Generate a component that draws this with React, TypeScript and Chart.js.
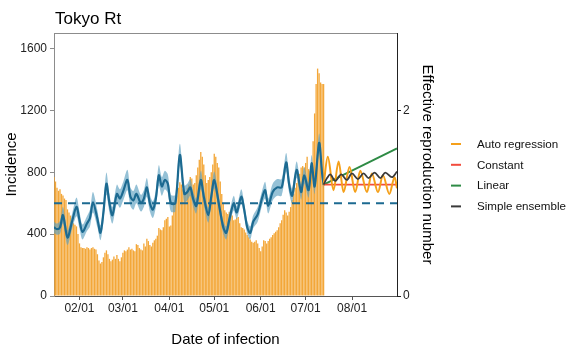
import React, { useEffect, useRef } from "react";
import { Chart, registerables } from "chart.js";

Chart.register(...registerables);

// ---------- DATA ----------
// day index 0 = Jan 15 (2020), last day = Aug 31
const xMinDay = 0;
const xMaxDay = 229;
const monthTickDays = [17, 46, 77, 107, 138, 168, 199];
const monthTickLabels = ["02/01", "03/01", "04/01", "05/01", "06/01", "07/01", "08/01"];
const incidenceTicks = [0, 400, 800, 1200, 1600];
const rtTicks = [0, 2];

const incidenceStartDay = 0;
const incidence = [
  770, 740, 700, 680, 690, 660, 650, 630, 620, 560,
  540, 520, 480, 470, 460, 450, 400, 340, 315, 310,
  310, 305, 315, 310, 300, 310, 315, 305, 300, 270,
  230, 210, 220, 250, 280, 295, 270, 240, 225, 235,
  255, 240, 265, 240, 225, 250, 280, 295, 290, 300,
  315, 300, 305, 295, 290, 335, 330, 310, 300, 295,
  340, 320, 370, 355, 330, 320, 345, 360, 370, 390,
  440, 430, 425, 445, 490, 500, 510, 450, 455, 520,
  590, 620, 650, 700, 735, 720, 690, 670, 660, 700,
  720, 770, 760, 720, 730, 780, 830, 880, 930, 900,
  850, 780, 730, 750, 770, 800, 850, 920, 900, 860,
  830, 740, 660, 600, 555, 540, 530, 545, 555, 520,
  490, 495, 505, 510, 470, 445, 440, 430, 410, 395,
  380, 365, 350, 345, 350, 360, 340, 310, 290, 320,
  360, 355, 340, 355, 370, 380, 395, 405, 415, 425,
  445, 470, 490, 525, 555, 540, 520, 545, 575, 620,
  660, 700, 730, 750, 790, 830, 840, 830, 860, 900,
  820, 810, 830, 1000, 1180, 1370, 1470, 1440, 1380, 1370,
  1370,
];

const rtDays = [
  0, 2, 4, 6, 9, 12, 15, 17, 19, 22,
  24, 26, 29, 31, 33, 35, 37, 39, 42, 44,
  46, 49, 51, 53, 55, 58, 60, 62, 64, 66,
  68, 70, 72, 74, 76, 78, 81, 84, 87, 89,
  91, 93, 95, 98, 100, 103, 105, 107, 110, 113,
  115, 117, 120, 122, 125, 127, 129, 131, 133, 136,
  139, 141, 143, 146, 149, 152, 155, 157, 159, 162,
  165, 167, 170, 172, 174, 177, 179, 180,
];
const rtValues = [
  0.74, 0.72, 0.74, 0.87, 0.63, 0.8, 0.96, 0.82, 0.69, 0.78,
  0.84, 1.01, 0.83, 0.68, 0.9, 1.21, 1.0, 0.87, 1.1, 1.05,
  1.12, 1.25, 1.07, 1.03, 1.1, 1.0, 1.05, 1.17, 1.0, 0.93,
  1.05, 1.3, 1.18, 1.25, 1.21, 1.0, 1.0, 1.52, 1.1, 1.12,
  1.17, 1.04, 0.97, 1.25, 1.07, 0.87, 1.07, 1.25, 1.0, 0.74,
  0.68, 0.82, 1.0, 0.9, 1.07, 0.93, 0.74, 0.68, 0.8, 0.88,
  1.06, 1.14, 0.97, 1.12, 1.17, 1.17, 1.44, 1.2, 1.08, 1.36,
  1.12, 1.3, 1.14, 1.43, 1.18, 1.65, 1.32, 1.2,
];
const rtHalfCI = [
  0.06, 0.06, 0.07, 0.09, 0.08, 0.08, 0.1, 0.09, 0.08, 0.08,
  0.09, 0.11, 0.09, 0.08, 0.1, 0.12, 0.1, 0.09, 0.1, 0.1,
  0.1, 0.11, 0.1, 0.1, 0.1, 0.09, 0.09, 0.1, 0.09, 0.09,
  0.09, 0.11, 0.1, 0.1, 0.1, 0.09, 0.09, 0.12, 0.09, 0.09,
  0.09, 0.08, 0.08, 0.1, 0.09, 0.08, 0.08, 0.09, 0.08, 0.07,
  0.07, 0.07, 0.08, 0.07, 0.08, 0.07, 0.07, 0.07, 0.07, 0.08,
  0.08, 0.09, 0.08, 0.09, 0.09, 0.09, 0.1, 0.09, 0.08, 0.09,
  0.08, 0.09, 0.08, 0.09, 0.08, 0.1, 0.08, 0.06,
];

const thresholdDays = [0, 229];
const thresholdValues = [1, 1];

const arDays = [180, 182.8, 186.6, 190, 193.3, 197.3, 201.1, 204.5, 208.9, 212.2, 216.3, 219.6, 223.9, 227.4, 229];
const arValues = [1.2, 1.5, 1.14, 1.45, 1.12, 1.39, 1.12, 1.35, 1.12, 1.32, 1.12, 1.3, 1.1, 1.28, 1.16];

const constDays = [180, 229];
const constValues = [1.2, 1.2];

const linDays = [180, 229];
const linValues = [1.2, 1.59];

const ensDays = [180, 182.3, 184.4, 187.7, 191.8, 195.5, 198.9, 202.9, 206.7, 210, 214, 217.9, 221.2, 225.6, 229];
const ensValues = [1.2, 1.27, 1.31, 1.24, 1.31, 1.25, 1.32, 1.26, 1.32, 1.27, 1.33, 1.27, 1.33, 1.28, 1.34];

const legendLabels = ["Auto regression", "Constant", "Linear", "Simple ensemble"];

// ---------- STYLE ----------
const FONT = '"Liberation Sans", Arial, Helvetica, sans-serif';
const C_BAR = "rgba(242,160,40,0.92)";
const C_AR = "#F5A01A";
const C_CONST = "#F24C3D";
const C_LIN = "#2E8B45";
const C_ENS = "#3A3A3A";
const C_RT = "#1C6A91";
const C_RIBBON = "rgba(92,160,192,0.65)";
const legendColors = [C_AR, C_CONST, C_LIN, C_ENS];

const pts = (xs: number[], ys: number[]) => xs.map((x, i) => ({ x, y: ys[i] }));

const decorPlugin = {
  id: "decor",
  afterDraw(chart: any) {
    const { ctx, chartArea } = chart;
    ctx.save();
    ctx.strokeStyle = "#8c8c8c";
    ctx.lineWidth = 1;
    ctx.beginPath();
    ctx.moveTo(chartArea.left, chartArea.top + 0.5);
    ctx.lineTo(chartArea.right, chartArea.top + 0.5);
    ctx.stroke();
    ctx.fillStyle = "#000";
    ctx.font = `17px ${FONT}`;
    ctx.textBaseline = "alphabetic";
    ctx.textAlign = "left";
    ctx.fillText("Tokyo Rt", chartArea.left + 1, 24);
    ctx.font = `11.6px ${FONT}`;
    ctx.textBaseline = "middle";
    legendLabels.forEach((lab, i) => {
      const y = 144 + i * 20.8;
      const x0 = chartArea.right + 54;
      ctx.strokeStyle = legendColors[i];
      ctx.lineWidth = 2;
      ctx.beginPath();
      ctx.moveTo(x0, y);
      ctx.lineTo(x0 + 10, y);
      ctx.stroke();
      ctx.fillStyle = "#111";
      ctx.fillText(lab, chartArea.right + 80, y + 0.5);
    });
    ctx.restore();
  },
};

export default function App() {
  const ref = useRef<HTMLCanvasElement>(null);

  useEffect(() => {
    Chart.defaults.font.family = FONT;
    const rtUpper = rtValues.map((v, i) => v + rtHalfCI[i]);
    const rtLower = rtValues.map((v, i) => v - rtHalfCI[i]);
    const lineBase = { pointRadius: 0, pointHoverRadius: 0, yAxisID: "y2", xAxisID: "x" };

    const chart = new Chart(ref.current as HTMLCanvasElement, {
      type: "bar",
      data: {
        datasets: [
          {
            type: "bar",
            label: "Incidence",
            data: incidence.map((v, i) => ({ x: incidenceStartDay + i, y: v })),
            backgroundColor: C_BAR,
            borderWidth: 0,
            barPercentage: 0.88,
            categoryPercentage: 1,
            yAxisID: "y",
            xAxisID: "x",
            order: 10,
          } as any,
          {
            type: "line",
            label: "rtUpper",
            data: pts(rtDays, rtUpper),
            borderWidth: 0,
            borderColor: "rgba(0,0,0,0)",
            backgroundColor: C_RIBBON,
            fill: "+1",
            tension: 0.3,
            order: 6,
            ...lineBase,
          } as any,
          {
            type: "line",
            label: "rtLower",
            data: pts(rtDays, rtLower),
            borderWidth: 0,
            borderColor: "rgba(0,0,0,0)",
            fill: false,
            tension: 0.3,
            order: 6,
            ...lineBase,
          } as any,
          {
            type: "line",
            label: "threshold",
            data: pts(thresholdDays, thresholdValues),
            borderColor: C_RT,
            borderWidth: 2,
            borderDash: [8, 6],
            fill: false,
            order: 5,
            ...lineBase,
          } as any,
          {
            type: "line",
            label: "Rt",
            data: pts(rtDays, rtValues),
            borderColor: C_RT,
            borderWidth: 2.2,
            fill: false,
            tension: 0.3,
            order: 4,
            ...lineBase,
          } as any,
          {
            type: "line",
            label: "Constant",
            data: pts(constDays, constValues),
            borderColor: C_CONST,
            borderWidth: 1.8,
            fill: false,
            order: 3,
            ...lineBase,
          } as any,
          {
            type: "line",
            label: "Linear",
            data: pts(linDays, linValues),
            borderColor: C_LIN,
            borderWidth: 1.8,
            fill: false,
            order: 3,
            ...lineBase,
          } as any,
          {
            type: "line",
            label: "Auto regression",
            data: pts(arDays, arValues),
            borderColor: C_AR,
            borderWidth: 2,
            fill: false,
            cubicInterpolationMode: "monotone",
            order: 2,
            ...lineBase,
          } as any,
          {
            type: "line",
            label: "Simple ensemble",
            data: pts(ensDays, ensValues),
            borderColor: C_ENS,
            borderWidth: 1.8,
            fill: false,
            cubicInterpolationMode: "monotone",
            order: 1,
            ...lineBase,
          } as any,
        ],
      },
      options: {
        responsive: false,
        animation: false,
        devicePixelRatio: 1,
        layout: { padding: { top: 33, right: 131, bottom: 0, left: 0 } },
        plugins: {
          legend: { display: false },
          tooltip: { enabled: false },
          title: { display: false },
        },
        scales: {
          x: {
            type: "linear",
            position: "bottom",
            offset: false,
            min: xMinDay,
            max: xMaxDay,
            afterBuildTicks: (s: any) => {
              s.ticks = monthTickDays.map((v) => ({ value: v }));
            },
            afterFit: (s: any) => {
              s.height = 61;
            },
            ticks: {
              autoSkip: false,
              maxRotation: 0,
              padding: 1,
              color: "#222",
              font: { size: 12, family: FONT },
              callback: (v: any) => {
                const i = monthTickDays.indexOf(Number(v));
                return i >= 0 ? monthTickLabels[i] : "";
              },
            },
            grid: { offset: false, drawOnChartArea: false, drawTicks: true, tickLength: 4, color: "#555" },
            border: { display: true, color: "#555", width: 1 },
            title: {
              display: true,
              text: "Date of infection",
              color: "#000",
              font: { size: 15, family: FONT },
              padding: { top: 0, bottom: 8 },
            },
          } as any,
          y: {
            type: "linear",
            position: "left",
            min: 0,
            max: 1700,
            afterBuildTicks: (s: any) => {
              s.ticks = incidenceTicks.map((v) => ({ value: v }));
            },
            afterFit: (s: any) => {
              s.width = 54;
            },
            ticks: {
              padding: 3,
              color: "#222",
              font: { size: 12, family: FONT },
              callback: (v: any) => String(v),
            },
            grid: { drawOnChartArea: false, drawTicks: true, tickLength: 4, color: "#8c8c8c" },
            border: { display: true, color: "#8c8c8c", width: 1 },
            title: {
              display: true,
              text: "Incidence",
              color: "#000",
              font: { size: 15, family: FONT },
              padding: { top: 3, bottom: 0 },
            },
          } as any,
          y2: {
            type: "linear",
            position: "right",
            min: 0,
            max: 2.8333,
            afterBuildTicks: (s: any) => {
              s.ticks = rtTicks.map((v) => ({ value: v }));
            },
            afterFit: (s: any) => {
              s.width = 40;
            },
            ticks: {
              padding: 2,
              color: "#222",
              font: { size: 12, family: FONT },
              callback: (v: any) => String(v),
            },
            grid: { drawOnChartArea: false, drawTicks: true, tickLength: 4, color: "#222" },
            border: { display: true, color: "#222", width: 1 },
            title: {
              display: true,
              text: "Effective reproduction number",
              color: "#000",
              font: { size: 15, family: FONT },
              padding: { top: 1, bottom: 0 },
            },
          } as any,
        },
      } as any,
      plugins: [decorPlugin],
    });
    return () => chart.destroy();
  }, []);

  return (
    <div style={{ position: "fixed", left: 0, top: 0, width: 568, height: 357, background: "#fff" }}>
      <canvas ref={ref} width={568} height={357} style={{ display: "block", width: 568, height: 357 }} />
    </div>
  );
}
